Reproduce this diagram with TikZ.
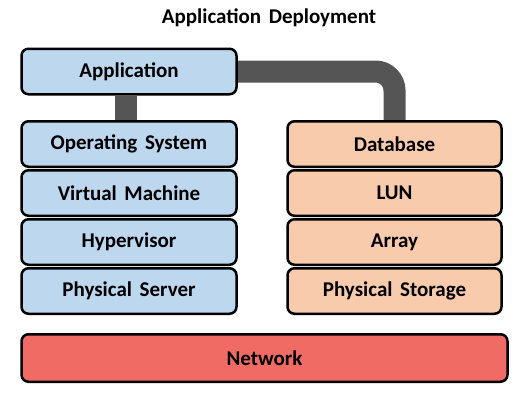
\documentclass[tikz,border=0pt]{standalone}
\usepackage{fontspec}
\setmainfont[WordSpace=1.6]{Carlito}
\usetikzlibrary{positioning, backgrounds}
\definecolor{hostblue}{HTML}{BDD7EE}
\definecolor{storeorange}{HTML}{F8CBAD}
\definecolor{netred}{HTML}{F06B63}
\definecolor{linkgray}{HTML}{555555}
\tikzset{
    layer/.style={rectangle, rounded corners=7pt, draw=black, line width=2.5pt, minimum height=45.5pt, inner sep=0pt, font=\bfseries\fontsize{21}{25}\selectfont},
    host/.style={layer, fill=hostblue, minimum width=215pt},
    store/.style={layer, fill=storeorange, minimum width=214pt},
    net/.style={layer, fill=netred, minimum width=486pt, minimum height=47.5pt},
    link/.style={line width=22pt, linkgray}
}

\begin{document}
\begin{tikzpicture}[x=1pt, y=-1pt, node distance=1pt]
    \useasboundingbox (0,0) rectangle (525,405);
    \node (title) at (269,18) {\bfseries\fontsize{21}{25}\selectfont Application Deployment};
    \node (app) [host] at (129,71.5) {Application};
    % compute stack
    \node (os) [host] at (129,144) {Operating System};
    \node (vm) [host, below=of os] {Virtual Machine};
    \node (hyp) [host, below=of vm] {Hypervisor};
    \node (server) [host, below=of hyp] {Physical Server};
    % storage stack
    \node (db) [store] at (394.5,144) {Database};
    \node (lun) [store, below=of db] {LUN};
    \node (array) [store, below=of lun] {Array};
    \node (storage) [store, below=of array] {Physical Storage};
    \node (network) [net] at (264.5,358) {Network};
    \begin{scope}[on background layer]
        \draw[link] ([xshift=-3pt]app.south) -- ([xshift=-3pt]os.north);
        \draw[link, rounded corners=19pt] (app.east) -| (db.north);
    \end{scope}
\end{tikzpicture}
\end{document}
